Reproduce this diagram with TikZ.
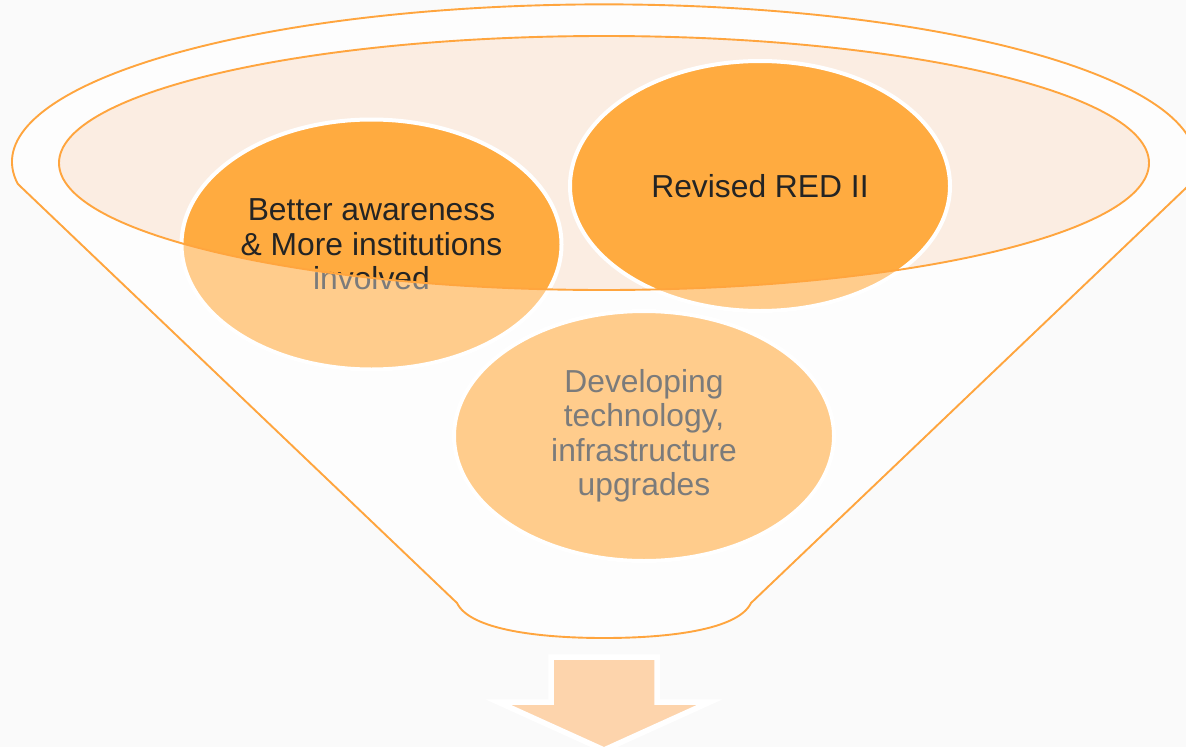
\documentclass[tikz,border=0pt]{standalone}
\usepackage{fontspec}
\setmainfont{Liberation Sans}
\usetikzlibrary{shapes.geometric}
\definecolor{pagebg}{HTML}{FAFAFA}
\definecolor{funnelfill}{HTML}{FCFCFC}
\definecolor{rimorange}{HTML}{FFA53E}
\definecolor{peach}{HTML}{FBEDE2}
\definecolor{ballorange}{HTML}{FFAB40}
\definecolor{ink}{HTML}{242424}
\definecolor{arrowfill}{HTML}{FDD4AC}
\tikzset{
  ball/.style={ellipse, draw=white, line width=4pt, fill=ballorange,
    minimum width=380pt, minimum height=250pt, inner sep=0pt,
    align=center, text=ink,
    font=\fontsize{31.8}{34.5}\selectfont},
  rimline/.style={draw=rimorange, line width=1.9pt},
}
\begin{document}
\begin{tikzpicture}[x=1pt,y=1pt]
  \useasboundingbox (0,0) rectangle (1186,-747);
  \fill[pagebg] (0,0) rectangle (1186,-747);
  \begin{scope}
    \clip (0,0) rectangle (1186,-747);
    % funnel outline: top rim arc, cone sides and rounded spout
    \def\funnelpath{
      (17.8,-183.9) arc[start angle=188, end angle=-8, x radius=592pt, y radius=157.6pt]
      -- (751,-603) .. controls (738,-630) and (668,-638) .. (604,-638)
      .. controls (540,-638) and (470,-630) .. (457,-603) -- cycle}
    \fill[funnelfill] \funnelpath;
    % inner opening
    \fill[peach] (604,-163) ellipse[x radius=545pt, y radius=127pt];
    % items in the funnel
    \node[ball] (c1) at (371.5,-244.5) {Better awareness\\ \& More institutions\\ involved};
    \node[ball] (c2) at (760,-186) {Revised RED II};
    \node[ball] (c3) at (644,-436) {Developing\\ technology,\\ infrastructure\\ upgrades};
    % translucent body of the funnel over everything outside the opening
    \fill[white, fill opacity=0.4, even odd rule] \funnelpath
      (604,-163) ellipse[x radius=545pt, y radius=127pt];
    % outlines
    \draw[rimline] \funnelpath;
    \draw[rimline] (604,-163) ellipse[x radius=545pt, y radius=127pt];
  \end{scope}
  % output arrow
  \draw[white, line width=5.5pt, fill=arrowfill, line join=miter]
    (551,-657) -- (657,-657) -- (657,-702) -- (710,-702) -- (604,-750)
    -- (498,-702) -- (551,-702) -- cycle;
\end{tikzpicture}
\end{document}
